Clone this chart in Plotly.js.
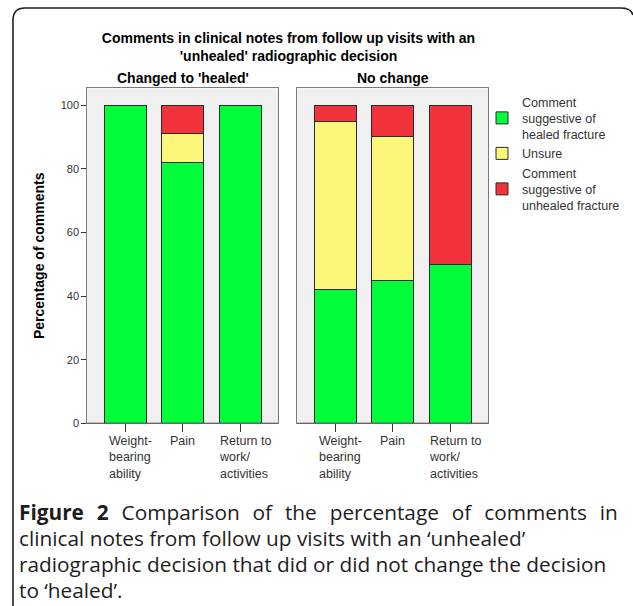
<!DOCTYPE html>
<html>
<head>
<meta charset="utf-8">
<script src="https://cdn.plot.ly/plotly-3.0.1.min.js"></script>
<style>html,body{margin:0;padding:0;background:#fff;}#chart{width:633px;height:606px;}</style>
</head>
<body>
<div id="chart"></div>
<script>
// ---- data ----
const categories = ["Weight-bearing ability", "Pain", "Return to work/activities"];
const categoryLabels = ["Weight-<br>bearing<br>ability", "Pain", "Return to<br>work/<br>activities"];
const panelTitles = ["Changed to 'healed'", "No change"];
const seriesNames = ["Comment<br>suggestive of<br>healed fracture", "Unsure", "Comment<br>suggestive of<br>unhealed fracture"];
const changedHealed = [100, 82, 100];
const changedUnsure = [0, 9, 0];
const changedUnhealed = [0, 9, 0];
const noChangeHealed = [42, 45, 50];
const noChangeUnsure = [53, 45, 0];
const noChangeUnhealed = [5, 10, 50];
const yTicks = [0, 20, 40, 60, 80, 100];
const chartTitle = "Comments in clinical notes from follow up visits with an<br>'unhealed' radiographic decision";
const yTitle = "Percentage of comments";
const NB = "\u00a0\u200a ";
const captionLines = [
  "<b>Figure" + NB + "2</b>" + NB + "Comparison" + NB + "of" + NB + "the" + NB + "percentage" + NB + "of" + NB + "comments" + NB + "in",
  "clinical notes from follow up visits with an \u2018unhealed\u2019",
  "radiographic decision that did or did not change the decision",
  "to \u2018healed\u2019."
];

// ---- styling ----
const W = 633, H = 606;
const px = v => v / W;
const py = v => 1 - v / H;
const colors = ["#00ff3b", "#faf77a", "#f2333b"];
const AF = "Liberation Sans, Arial, sans-serif";

const panelData = [
  [changedHealed, changedUnsure, changedUnhealed],
  [noChangeHealed, noChangeUnsure, noChangeUnhealed]
];

const traces = [];
panelData.forEach((series, p) => {
  series.forEach((vals, s) => {
    traces.push({
      type: "bar",
      x: categories,
      y: vals,
      name: seriesNames[s],
      legendgroup: "s" + s,
      showlegend: p === 0,
      xaxis: p === 0 ? "x" : "x2",
      yaxis: p === 0 ? "y" : "y2",
      marker: {color: colors[s], line: {color: "#2a2a2a", width: 1}},
      hoverinfo: "skip"
    });
  });
});

const yDomain = [py(423.3), py(88.3)];
const yRange = [0, 105.3];
const xRange = [-0.658, 2.658];

const commonX = {
  type: "category", range: xRange, showline: true, mirror: true, linecolor: "#7a7a7a", linewidth: 1,
  ticks: "outside", ticklen: 8, tickcolor: "#333", showticklabels: false, showgrid: false, zeroline: false, fixedrange: true
};

const annotations = [];
// panel titles
[[87.3, 278], [297.3, 488.3]].forEach((d, i) => {
  annotations.push({
    text: "<b>" + panelTitles[i] + "</b>", xref: "paper", yref: "paper",
    x: px((d[0] + d[1]) / 2), y: py(78), xanchor: "center", yanchor: "middle",
    showarrow: false, font: {family: AF, size: 14, color: "#000"}
  });
});
// category labels
["x", "x2"].forEach(ax => {
  categories.forEach((c, i) => {
    annotations.push({
      text: categoryLabels[i], xref: ax, yref: "paper", x: c, y: py(432),
      xanchor: "center", yanchor: "top", align: "left", xshift: i === 1 ? 0 : 5,
      showarrow: false, font: {family: AF, size: 12.5, color: "#333"}
    });
  });
});
// caption
const capY = [512, 538, 564, 590];
captionLines.forEach((t, i) => {
  annotations.push({
    text: t, xref: "paper", yref: "paper", x: px(17), y: py(capY[i]),
    xanchor: "left", yanchor: "middle", align: "left", showarrow: false,
    font: {family: "Open Sans, Noto Sans, sans-serif", size: 20.8, color: "#1e1c1d"}
  });
});

const frame = "M " + px(13) + "," + py(606) + " L " + px(13) + "," + py(20) +
  " Q " + px(13) + "," + py(8) + " " + px(25) + "," + py(8) +
  " L " + px(621) + "," + py(8) + " Q " + px(631) + "," + py(8) + " " + px(633) + "," + py(15);

const layout = {
  width: W, height: H,
  margin: {l: 0, r: 0, t: 0, b: 0},
  paper_bgcolor: "#ffffff",
  plot_bgcolor: "#f0f0f0",
  barmode: "stack",
  bargap: 0.267,
  title: {
    text: "<b>" + chartTitle + "</b>", x: px(288.5), xref: "paper", xanchor: "center",
    y: py(43), yref: "paper", yanchor: "top",
    font: {family: AF, size: 14, color: "#000"}
  },
  xaxis: Object.assign({}, commonX, {domain: [px(87.3), px(278)], anchor: "y"}),
  xaxis2: Object.assign({}, commonX, {domain: [px(297.3), px(488.3)], anchor: "y2"}),
  yaxis: {
    domain: yDomain, range: yRange, tickvals: yTicks, ticks: "outside", ticklen: 5, tickcolor: "#333",
    showline: true, mirror: true, linecolor: "#7a7a7a", showgrid: false, zeroline: false, fixedrange: true,
    tickfont: {family: AF, size: 11, color: "#333"},
    title: {text: "<b>" + yTitle + "</b>", standoff: 12, font: {family: AF, size: 14, color: "#000"}},
    automargin: false
  },
  yaxis2: {
    domain: yDomain, range: yRange, anchor: "x2", showticklabels: false, ticks: "",
    showline: true, mirror: true, linecolor: "#7a7a7a", showgrid: false, zeroline: false, fixedrange: true
  },
  legend: {
    x: px(482), y: py(87), xanchor: "left", yanchor: "top", traceorder: "normal",
    bgcolor: "rgba(0,0,0,0)", font: {family: AF, size: 12.5, color: "#333"},
    itemclick: false, itemdoubleclick: false, tracegroupgap: 4
  },
  annotations: annotations,
  shapes: [
    {type: "path", path: frame, xref: "paper", yref: "paper", line: {color: "#222", width: 1.6}},
    {type: "line", xref: "x domain", yref: "y", x0: 0, x1: 1, y0: 0, y1: 0, line: {color: "#333", width: 1.2}},
    {type: "line", xref: "x2 domain", yref: "y2", x0: 0, x1: 1, y0: 0, y1: 0, line: {color: "#333", width: 1.2}}
  ],
  showlegend: true
};

Plotly.newPlot("chart", traces, layout, {displayModeBar: false, staticPlot: true});
</script>
</body>
</html>
